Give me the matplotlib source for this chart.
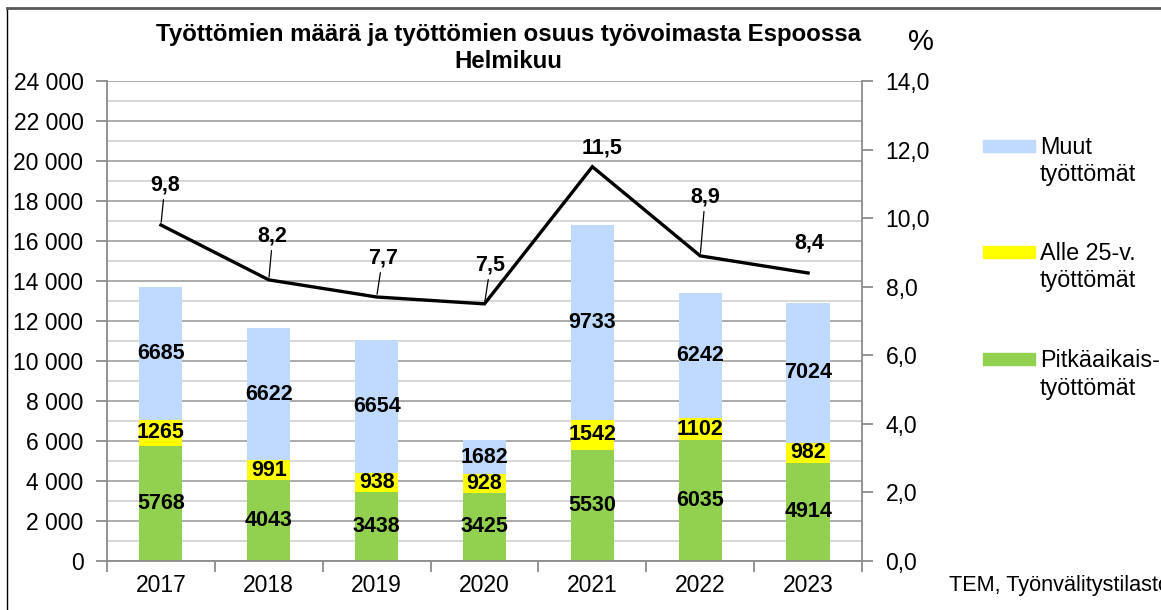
import matplotlib
matplotlib.use("Agg")
import matplotlib.pyplot as plt
from matplotlib.patches import Rectangle
from matplotlib.lines import Line2D
from matplotlib.ticker import MultipleLocator, FuncFormatter

plt.rcParams['font.family'] = ['Liberation Sans', 'DejaVu Sans']

years = ['2017', '2018', '2019', '2020', '2021', '2022', '2023']
pitkaaikais = [5768, 4043, 3438, 3425, 5530, 6035, 4914]
alle25 = [1265, 991, 938, 928, 1542, 1102, 982]
muut = [6685, 6622, 6654, 1682, 9733, 6242, 7024]
osuus = [9.8, 8.2, 7.7, 7.5, 11.5, 8.9, 8.4]

series_names = ['Muut\ntyöttömät', 'Alle 25-v.\ntyöttömät', 'Pitkäaikais-\ntyöttömät']
c_muut = '#C0DAFF'
c_alle = '#FFFF00'
c_pitka = '#92D050'

# label offsets (pixels) for the percentage labels; leader flag
lab_off = [(4, 40), (4, 44), (6, 39), (6, 39), (10, 19), (5, 59), (1, 30)]
leader = [True, True, True, True, False, True, False]

W, H = 1161, 610
fig = plt.figure(figsize=(W / 100, H / 100), dpi=100)
ax = fig.add_axes([107 / W, 1 - 561 / H, (862 - 107) / W, (561 - 81) / H])
ax.set_zorder(1)
ax.patch.set_alpha(0)

x = list(range(len(years)))
bw = 0.4
b1 = ax.bar(x, pitkaaikais, bw, color=c_pitka, zorder=2)
bottom2 = pitkaaikais
b2 = ax.bar(x, alle25, bw, bottom=bottom2, color=c_alle, zorder=2)
bottom3 = [a + b for a, b in zip(pitkaaikais, alle25)]
b3 = ax.bar(x, muut, bw, bottom=bottom3, color=c_muut, zorder=2)

for bars, vals in ((b1, pitkaaikais), (b2, alle25), (b3, muut)):
    ax.bar_label(bars, labels=[str(v) for v in vals], label_type='center',
                 fontsize=15.5, fontweight='bold', color='black', zorder=5)

ax.set_xlim(-0.5, len(years) - 0.5)
ax.set_ylim(0, 24000)
ax.yaxis.set_major_locator(MultipleLocator(2000))
ax.yaxis.set_minor_locator(MultipleLocator(1000))
ax.yaxis.set_major_formatter(FuncFormatter(lambda v, p: f"{int(v):,}".replace(',', ' ')))
ax.grid(True, axis='y', which='major', color='#a6a6a6', lw=1.3, zorder=0)
ax.grid(True, axis='y', which='minor', color='#d4d4d4', lw=1.3, zorder=0)
ax.set_axisbelow(True)
ax.set_xticks(x)
ax.set_xticklabels(years)
ax.set_xticks([i - 0.5 for i in range(len(years) + 1)], minor=True)
ax.tick_params(axis='x', which='major', length=0, pad=9, labelsize=16.5)
ax.tick_params(axis='x', which='minor', length=8, color='#8c8c8c', width=1.3)
ax.tick_params(axis='y', which='major', length=8, color='#8c8c8c', width=1.3, labelsize=16.5, pad=9)
ax.tick_params(axis='y', which='minor', length=0)
for s in ('top', 'right'):
    ax.spines[s].set_visible(False)
for s in ('left', 'bottom'):
    ax.spines[s].set_color('#8c8c8c')
    ax.spines[s].set_linewidth(1.3)

ax2 = ax.twinx()
ax2.set_zorder(2)
ax2.plot(x, osuus, color='black', lw=2.4, zorder=3, solid_joinstyle='miter')
ax2.set_ylim(0, 14)
ax2.yaxis.set_major_locator(MultipleLocator(2))
ax2.yaxis.set_major_formatter(FuncFormatter(lambda v, p: f"{v:.1f}".replace('.', ',')))
ax2.tick_params(axis='y', length=8, color='#8c8c8c', width=1.3, labelsize=16.5, pad=9)
for s in ('top', 'left', 'bottom'):
    ax2.spines[s].set_visible(False)
ax2.spines['right'].set_color('#8c8c8c')
ax2.spines['right'].set_linewidth(1.3)

for xi, v, off, ld in zip(x, osuus, lab_off, leader):
    ap = dict(arrowstyle='-', color='black', lw=0.9, shrinkA=1, shrinkB=2) if ld else None
    ax2.annotate(f"{v:.1f}".replace('.', ','), xy=(xi, v), xytext=off,
                 textcoords='offset pixels', ha='center', va='center',
                 fontsize=15.5, fontweight='bold', arrowprops=ap)

# Title
fig.text(508 / W, 1 - 35 / H, 'Työttömien määrä ja työttömien osuus työvoimasta Espoossa',
         ha='center', va='center', fontsize=17.3, fontweight='bold')
fig.text(508 / W, 1 - 62 / H, 'Helmikuu', ha='center', va='center', fontsize=17.3, fontweight='bold')
fig.text(921 / W, 1 - 42 / H, '%', ha='center', va='center', fontsize=21)

# Legend
leg_cols = [c_muut, c_alle, c_pitka]
leg_y = [146, 252, 359]
for name, col, yy in zip(series_names, leg_cols, leg_y):
    fig.patches.append(Rectangle((983 / W, 1 - (yy + 6) / H), 52 / W, 12 / H,
                                 transform=fig.transFigure, color=col))
    fig.text(1040 / W, 1 - (yy - 10) / H, name, ha='left', va='top', fontsize=16.8,
             linespacing=1.25)

fig.text(949 / W, 1 - 586 / H, 'TEM, Työnvälitystilasto', ha='left', va='center', fontsize=15.6)

# Border
fig.add_artist(Line2D([7 / W, 7 / W], [0, 1 - 8 / H], transform=fig.transFigure,
                      color='black', lw=1.0))
fig.add_artist(Line2D([7 / W, 1], [1 - 8 / H, 1 - 8 / H], transform=fig.transFigure,
                      color='#595959', lw=2.0))

fig.savefig('out.png', dpi=100)
